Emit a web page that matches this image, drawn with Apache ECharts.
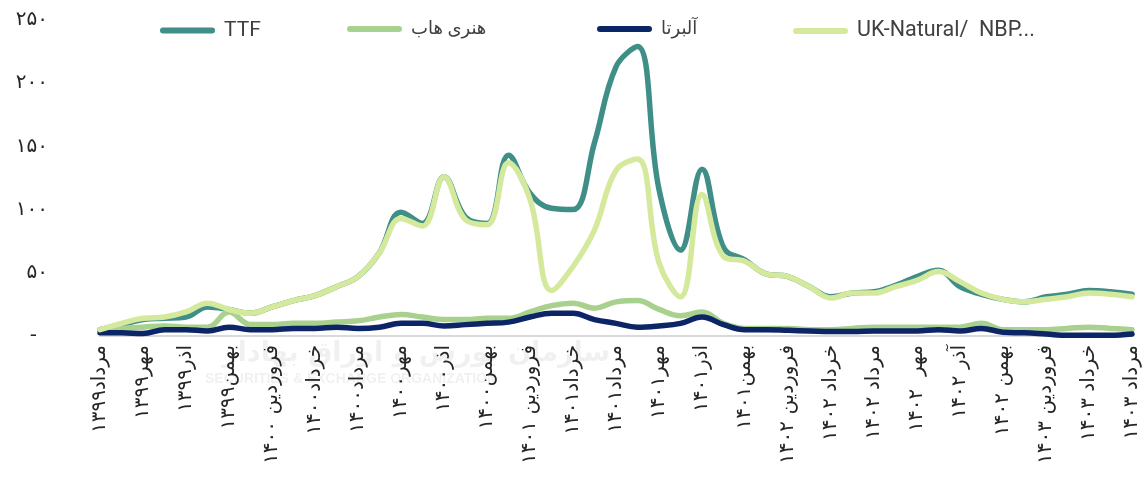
<!DOCTYPE html>
<html>
<head>
<meta charset="utf-8">
<script src="https://cdn.jsdelivr.net/npm/echarts@6/dist/echarts.min.js"></script>
<style>
  html, body { margin: 0; padding: 0; background: #ffffff; }
  #chart { width: 1146px; height: 485px; }
</style>
</head>
<body>
<div id="chart"></div>
<script>
// Monthly gas prices, مرداد ۱۳۹۹ to مرداد ۱۴۰۳
const months = [
  'مرداد۱۳۹۹', 'شهریور۱۳۹۹', 'مهر۱۳۹۹', 'آبان۱۳۹۹', 'اذر۱۳۹۹', 'دی۱۳۹۹',
  'بهمن۱۳۹۹', 'اسفند۱۳۹۹', 'فروردین ۱۴۰۰', 'اردیبهشت ۱۴۰۰', 'خرداد۱۴۰۰', 'تیر۱۴۰۰',
  'مرداد۱۴۰۰', 'شهریور۱۴۰۰', 'مهر۱۴۰۰', 'آبان۱۴۰۰', 'اذر۱۴۰۰', 'دی۱۴۰۰',
  'بهمن۱۴۰۰', 'اسفند۱۴۰۰', 'فروردین ۱۴۰۱', 'اردیبهشت ۱۴۰۱', 'خرداد۱۴۰۱', 'تیر۱۴۰۱',
  'مرداد۱۴۰۱', 'شهریور۱۴۰۱', 'مهر۱۴۰۱', 'آبان۱۴۰۱', 'اذر۱۴۰۱', 'دی۱۴۰۱',
  'بهمن۱۴۰۱', 'اسفند۱۴۰۱', 'فروردین ۱۴۰۲', 'اردیبهشت ۱۴۰۲', 'خرداد ۱۴۰۲', 'تیر ۱۴۰۲',
  'مرداد ۱۴۰۲', 'شهریور ۱۴۰۲', 'مهر  ۱۴۰۲', 'آبان ۱۴۰۲', 'آذر ۱۴۰۲', 'دی ۱۴۰۲',
  'بهمن ۱۴۰۲', 'اسفند ۱۴۰۲', 'فروردین ۱۴۰۳', 'اردیبهشت ۱۴۰۳', 'خرداد ۱۴۰۳', 'تیر ۱۴۰۳',
  'مرداد ۱۴۰۳'
];

const ttf = [
  5, 9, 13, 14, 15, 23, 21, 18, 23, 28, 32, 39,
  47, 66, 98, 89, 126, 94, 89, 143, 113, 101, 100, 153,
  213, 229, 116, 68, 132, 70, 60, 49, 47, 39, 31, 34,
  35, 40, 47, 52, 39, 33, 29, 27, 31, 33, 36, 35,
  33
];

const henryHub = [
  5, 6, 7, 8, 7, 7, 19, 9, 9, 10, 10, 11,
  12, 15, 17, 15, 13, 13, 14, 14, 19, 24, 26, 22,
  27, 28, 21, 16, 19, 10, 6, 6, 6, 5, 5, 6,
  7, 7, 7, 7, 7, 10, 5, 5, 5, 6, 7, 6,
  5
];

const alberta = [
  2.5, 2.5, 2, 5, 5, 4, 7, 5, 5, 6, 6, 7,
  6, 7, 10, 10, 8, 9, 10, 11, 15, 18, 18, 13,
  10, 7, 8, 10, 15, 9, 5, 5, 4.5, 4, 3.5, 3.5,
  4, 4, 4, 5, 4, 6, 3, 2.5, 1.5, 0.5, 0.5, 0.5,
  1.5
];

const ukNbp = [
  5, 10, 14, 15, 19, 26, 21, 18, 23, 28, 32, 39,
  47, 66, 93, 87, 126, 92, 88, 137, 108, 36, 55, 84,
  131, 140, 58, 31, 112, 63, 59, 49, 47, 39, 30, 34,
  34, 39, 44, 51, 43, 34, 29, 27, 29, 31, 34, 33,
  31
];

const seriesNames = ['TTF', 'هنری هاب', 'آلبرتا', 'UK-Natural/  NBP...'];
const yTickLabels = ['-', '۵۰', '۱۰۰', '۱۵۰', '۲۰۰', '۲۵۰'];

const colors = ['#3f8f88', '#a9d18e', '#0c2566', '#d5e99d'];
const legendLefts = [160, 347, 597, 793];
const legendSizes = [21, 18, 18, 21.5];
const legendFont = "'Roboto', 'DejaVu Sans', sans-serif";
const faFont = "'DejaVu Sans', sans-serif";

const chart = echarts.init(document.getElementById('chart'), null, { renderer: 'canvas' });

// pill-shaped legend marker
const pill = 'path://M3,0 L52,0 A3,3 0 0 1 52,6 L3,6 A3,3 0 0 1 3,0 Z';

const option = {
  animation: false,
  backgroundColor: '#ffffff',
  color: colors,
  grid: { left: 100, right: 14, top: 20, bottom: 149, containLabel: false },
  legend: seriesNames.map((name, k) => ({
    data: [name],
    left: legendLefts[k],
    top: 20,
    padding: 0,
    icon: pill,
    itemWidth: 55,
    itemHeight: 6,
    itemGap: 0,
    selectedMode: false,
    textStyle: {
      color: '#404040',
      fontSize: legendSizes[k],
      fontFamily: legendFont,
      padding: [0, 0, 0, 4]
    }
  })),
  xAxis: {
    type: 'category',
    data: months,
    boundaryGap: false,
    axisLine: { show: true, lineStyle: { color: '#d9d9d9', width: 2 } },
    axisTick: { show: false },
    splitLine: { show: false },
    axisLabel: {
      interval: 1,
      rotate: 90,
      margin: 9,
      color: '#262626',
      fontSize: 20,
      fontFamily: faFont
    }
  },
  yAxis: {
    type: 'value',
    min: 0,
    max: 250,
    interval: 50,
    axisLine: { show: false },
    axisTick: { show: false },
    splitLine: { show: false },
    axisLabel: {
      margin: 52,
      color: '#262626',
      fontSize: 20,
      fontFamily: faFont,
      formatter: v => {
        const label = yTickLabels[Math.round(v / 50)];
        return v === 0 ? '{dash|' + label + '}' : label;
      },
      rich: {
        dash: {
          color: '#262626',
          fontSize: 20,
          fontFamily: faFont,
          padding: [0, 11, 0, 0]
        }
      }
    }
  },
  series: [ttf, henryHub, alberta, ukNbp].map((values, k) => ({
    name: seriesNames[k],
    type: 'line',
    data: values,
    smooth: 0.4,
    symbol: 'none',
    lineStyle: { width: 5.5, color: colors[k], cap: 'round', join: 'round' },
    itemStyle: { color: colors[k] },
    z: 2 + k
  })),
  graphic: [
    {
      type: 'text',
      left: 222,
      top: 340,
      z: -10,
      silent: true,
      style: {
        text: 'سازمان بورس و اوراق بهادار',
        fill: 'rgba(0,0,0,0.06)',
        font: "bold 27px 'DejaVu Sans', sans-serif"
      }
    },
    {
      type: 'text',
      left: 205,
      top: 372,
      z: -10,
      silent: true,
      style: {
        text: 'SECURITIES & EXCHANGE ORGANIZATION',
        fill: 'rgba(0,0,0,0.06)',
        font: "bold 14px 'Liberation Sans', sans-serif"
      }
    }
  ]
};

chart.setOption(option);
</script>
</body>
</html>
